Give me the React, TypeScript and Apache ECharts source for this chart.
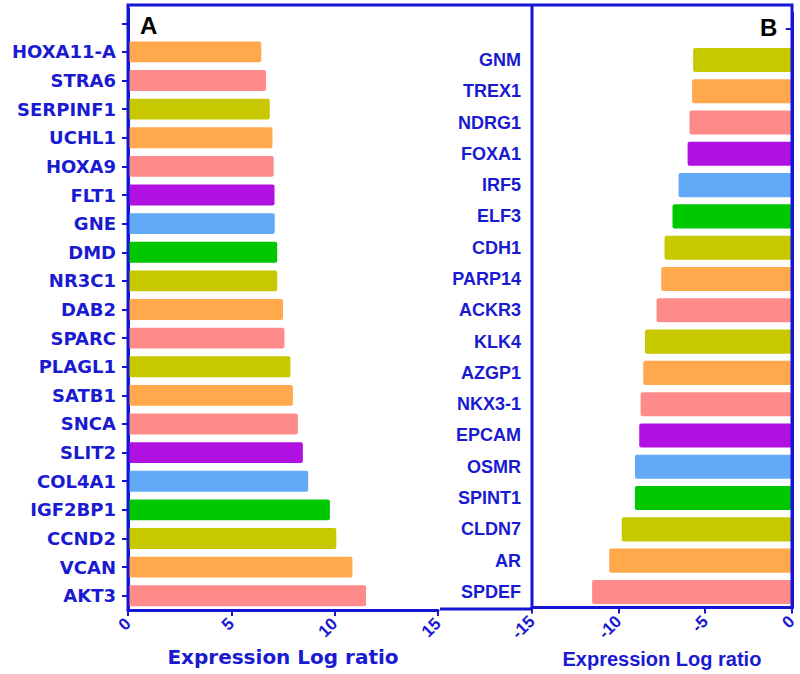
import React, { useEffect, useRef } from "react";
import * as echarts from "echarts";

const genesA = ["", "HOXA11-A", "STRA6", "SERPINF1", "UCHL1", "HOXA9", "FLT1", "GNE", "DMD", "NR3C1", "DAB2", "SPARC", "PLAGL1", "SATB1", "SNCA", "SLIT2", "COL4A1", "IGF2BP1", "CCND2", "VCAN", "AKT3"];
const valuesA = [null, 6.45, 6.68, 6.86, 6.99, 7.05, 7.09, 7.1, 7.22, 7.22, 7.5, 7.57, 7.86, 7.98, 8.22, 8.46, 8.72, 9.77, 10.08, 10.86, 11.52];
const colorsA = ["", "orange", "pink", "olive", "orange", "pink", "purple", "blue", "green", "olive", "orange", "pink", "olive", "orange", "pink", "purple", "blue", "green", "olive", "orange", "pink"];

const genesB = ["", "GNM", "TREX1", "NDRG1", "FOXA1", "IRF5", "ELF3", "CDH1", "PARP14", "ACKR3", "KLK4", "AZGP1", "NKX3-1", "EPCAM", "OSMR", "SPINT1", "CLDN7", "AR", "SPDEF"];
const valuesB = [null, -5.7, -5.76, -5.91, -6.02, -6.54, -6.89, -7.35, -7.54, -7.81, -8.48, -8.58, -8.73, -8.81, -9.06, -9.06, -9.82, -10.54, -11.53];
const colorsB = ["", "olive", "orange", "pink", "purple", "blue", "green", "olive", "orange", "pink", "olive", "orange", "pink", "purple", "blue", "green", "olive", "orange", "pink"];

const ticksA = [0, 5, 10, 15];
const ticksB = [-15, -10, -5, 0];

const palette: Record<string, string> = {
  orange: "#FFA84C",
  pink: "#FF8A8A",
  olive: "#C8C800",
  purple: "#B010E0",
  blue: "#62AAF8",
  green: "#00C800",
};

const BLUE = "#1515D8";
const TXT = "#1A1AD0";

export default function App() {
  const ref = useRef<HTMLDivElement>(null);
  useEffect(() => {
    if (!ref.current) return;
    const chart = echarts.init(ref.current, null, { renderer: "svg" });
    const axisLine = { show: true, lineStyle: { color: BLUE, width: 3 } };
    const axisTick = { show: true, length: 6, lineStyle: { color: BLUE, width: 2 } };
    const xLabel = { color: TXT, fontWeight: "bold" as const, fontSize: 17, fontFamily: "Liberation Sans, Arial", rotate: 45, margin: 11 };
    const nameStyle = { color: TXT, fontWeight: "bold" as const, fontSize: 20, fontFamily: "Liberation Sans, Arial" };
    chart.setOption({
      animation: false,
      grid: [
        { left: 128, width: 310, top: 9, bottom: 64, containLabel: false },
        { left: 532, right: 8, top: 13, bottom: 65, containLabel: false },
      ],
      xAxis: [
        {
          gridIndex: 0, type: "value", min: ticksA[0], max: ticksA[ticksA.length - 1], interval: 5,
          axisLine, axisTick, splitLine: { show: false }, axisLabel: xLabel,
          name: "Expression Log ratio", nameLocation: "middle", nameGap: 36,
          nameTextStyle: { ...nameStyle, fontFamily: "DejaVu Sans" },
        },
        {
          gridIndex: 1, type: "value", min: ticksB[0], max: ticksB[ticksB.length - 1], interval: 5,
          axisLine, axisTick, splitLine: { show: false }, axisLabel: xLabel,
          name: "Expression Log ratio", nameLocation: "middle", nameGap: 38, nameTextStyle: nameStyle,
        },
      ],
      yAxis: [
        {
          gridIndex: 0, type: "category", data: genesA, inverse: true, position: "left",
          axisLine, axisTick: { ...axisTick, alignWithLabel: true },
          axisLabel: { interval: 0, color: TXT, fontWeight: "bold", fontSize: 18, fontFamily: "DejaVu Sans", margin: 12 },
        },
        {
          gridIndex: 1, type: "category", data: genesB, inverse: true, position: "left",
          axisLine, axisTick: { ...axisTick, alignWithLabel: true },
          axisLabel: { interval: 0, color: TXT, fontWeight: "bold", fontSize: 18, fontFamily: "Liberation Sans, Arial", margin: 11 },
        },
      ],
      series: [
        {
          type: "bar", xAxisIndex: 0, yAxisIndex: 0, data: valuesA, barCategoryGap: "27%",
          itemStyle: { color: (p: any) => palette[colorsA[p.dataIndex]] || "#ccc", borderRadius: 2 },
        },
        {
          type: "bar", xAxisIndex: 1, yAxisIndex: 1, data: valuesB, barCategoryGap: "23%",
          itemStyle: { color: (p: any) => palette[colorsB[p.dataIndex]] || "#ccc", borderRadius: 2 },
        },
      ],
      graphic: [
        { type: "polyline", shape: { points: [[128, 611], [128, 5], [792, 5], [792, 609]] }, style: { stroke: BLUE, lineWidth: 3, fill: null }, z: 10 },
        { type: "line", shape: { x1: 532, y1: 5, x2: 532, y2: 609 }, style: { stroke: BLUE, lineWidth: 3 }, z: 10 },
        { type: "line", shape: { x1: 440, y1: 609, x2: 532, y2: 609 }, style: { stroke: BLUE, lineWidth: 3 }, z: 10 },
        { type: "text", x: 140, y: 13, style: { text: "A", fill: "#000", font: "bold 24px 'Liberation Sans', Arial" }, z: 10 },
        { type: "text", x: 760, y: 15, style: { text: "B", fill: "#000", font: "bold 24px 'Liberation Sans', Arial" }, z: 10 },
      ],
    });
    return () => chart.dispose();
  }, []);
  return <div ref={ref} style={{ width: 800, height: 674, position: "absolute", left: 0, top: 0 }} />;
}
